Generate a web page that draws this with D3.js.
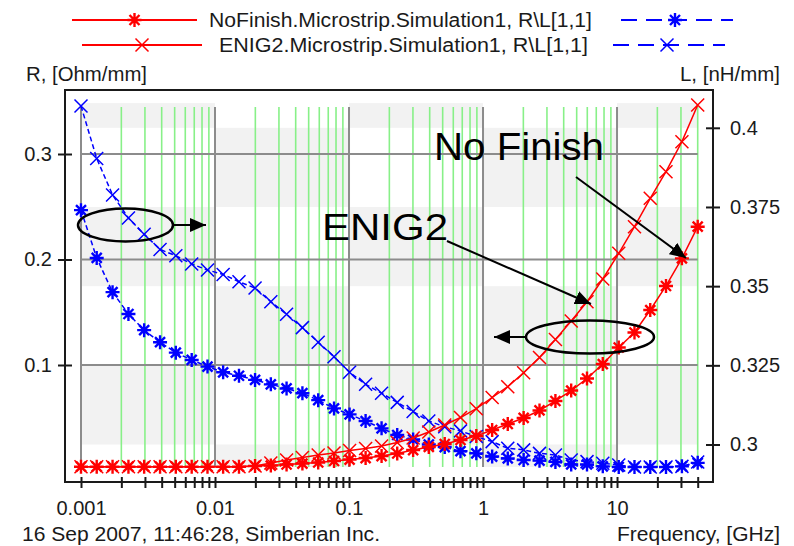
<!DOCTYPE html>
<html><head><meta charset="utf-8">
<script src="https://cdn.jsdelivr.net/npm/d3@7"></script>
<style>
html,body{margin:0;padding:0;background:#fff;}
svg{display:block;font-family:"Liberation Sans",Arial,sans-serif;}
</style></head>
<body>
<svg id="c" width="794" height="546"></svg>
<script>
// ---- data ----
const freq = [0.001,0.00131,0.00172,0.00226,0.00296,0.00389,0.0051,0.0067,0.00879,0.0115,
  0.0151,0.0199,0.0261,0.0342,0.0449,0.0589,0.0773,0.101,0.133,0.175,
  0.229,0.301,0.394,0.518,0.679,0.891,1.17,1.53,2.01,2.64,
  3.47,4.55,5.97,7.83,10.3,13.5,17.7,23.2,30.5,40];
const rNoFinish = [0.0036,0.0036,0.0036,0.0036,0.0036,0.0036,0.0036,0.0036,0.0036,0.0036,
  0.0036,0.0043,0.0047,0.0057,0.0066,0.0076,0.0090,0.0104,0.0118,0.0137,
  0.0161,0.0194,0.0223,0.0251,0.0289,0.0327,0.0384,0.0441,0.0498,0.0569,
  0.0659,0.0758,0.0872,0.1009,0.1166,0.1308,0.1521,0.1749,0.2011,0.2311];
const rENIG2 = [0.0036,0.0036,0.0036,0.0036,0.0036,0.0036,0.0036,0.0036,0.0036,0.0036,
  0.0036,0.0043,0.0071,0.0100,0.0123,0.0147,0.0166,0.0190,0.0209,0.0232,
  0.0265,0.0308,0.0365,0.0431,0.0502,0.0586,0.0692,0.0794,0.0926,0.1071,
  0.1242,0.1417,0.1600,0.1815,0.2059,0.2311,0.2580,0.2832,0.3117,0.3464];
const lNoFinish = [0.3740,0.3589,0.3481,0.3412,0.3361,0.3323,0.3290,0.3267,0.3246,0.3228,
  0.3217,0.3204,0.3190,0.3177,0.3162,0.3140,0.3114,0.3095,0.3074,0.3051,
  0.3030,0.3016,0.3000,0.2992,0.2979,0.2972,0.2962,0.2956,0.2951,0.2949,
  0.2945,0.2937,0.2937,0.2931,0.2929,0.2929,0.2929,0.2929,0.2931,0.2942];
const lENIG2 = [0.4069,0.3903,0.3788,0.3715,0.3664,0.3616,0.3596,0.3570,0.3551,0.3537,
  0.3514,0.3494,0.3451,0.3411,0.3369,0.3323,0.3277,0.3228,0.3190,0.3162,
  0.3133,0.3104,0.3074,0.3056,0.3043,0.3025,0.3009,0.2988,0.2983,0.2972,
  0.2967,0.2951,0.2946,0.2941,0.2935,0.2929,0.2929,0.2929,0.2931,0.2945];
const rTicks = [0.1,0.2,0.3];
const rTickLabels = ["0.1","0.2","0.3"];
const lTicks = [0.3,0.325,0.35,0.375,0.4];
const lTickLabels = ["0.3","0.325","0.35","0.375","0.4"];
const xMajor = [0.001,0.01,0.1,1,10];
const xTickLabels = ["0.001","0.01","0.1","1","10"];
const xMinor = [0.002,0.003,0.004,0.005,0.006,0.007,0.008,0.009,
  0.02,0.03,0.04,0.05,0.06,0.07,0.08,0.09,
  0.2,0.3,0.4,0.5,0.6,0.7,0.8,0.9,
  2,3,4,5,6,7,8,9,20,30,40];
const legendNames = ["NoFinish.Microstrip.Simulation1, R\\L[1,1]","ENIG2.Microstrip.Simulation1, R\\L[1,1]"];

// ---- scales ----
const x = d3.scaleLog().domain([0.001,40]).range([81,697.7]);
const yR = d3.scaleLinear().domain([0.1,0.3]).range([365,154]);
const yL = d3.scaleLinear().domain([0.3,0.4]).range([444.5,127.8]);
const svg = d3.select("#c");

const RED="#ff0000", BLUE="#0000ff";
const starPath="M-7,0L7,0M0,-7L0,7M-5,-5L5,5M-5,5L5,-5";
const crossPath="M-6.5,-6.5L6.5,6.5M-6.5,6.5L6.5,-6.5";

// ---- background bands (checkerboard) ----
const cols = [[0.001,0.01],[0.01,0.1],[0.1,1],[1,10],[10,40]];
const rowEdges = [0.4078,0.4,0.375,0.35,0.325,0.3,0.2929];
const bg = svg.append("g");
cols.forEach((c,ci)=>{
  for(let ri=0;ri<rowEdges.length-1;ri++){
    if((ci+ri)%2===0){
      bg.append("rect").attr("x",x(c[0])).attr("width",x(c[1])-x(c[0]))
        .attr("y",yL(rowEdges[ri])).attr("height",yL(rowEdges[ri+1])-yL(rowEdges[ri]))
        .attr("fill","#f2f2f2");
    }
  }
});
// green minor gridlines
svg.append("g").selectAll("line").data(xMinor).join("line")
  .attr("x1",d=>x(d)).attr("x2",d=>x(d)).attr("y1",107).attr("y2",467)
  .attr("stroke","#88f088").attr("stroke-width",1.6);
// gray major gridlines
svg.append("g").selectAll("line").data(xMajor).join("line")
  .attr("x1",d=>x(d)).attr("x2",d=>x(d)).attr("y1",107).attr("y2",467)
  .attr("stroke","#8c8c8c").attr("stroke-width",2);
svg.append("g").selectAll("line").data(rTicks).join("line")
  .attr("x1",x(0.001)).attr("x2",x(40)).attr("y1",d=>yR(d)).attr("y2",d=>yR(d))
  .attr("stroke","#8c8c8c").attr("stroke-width",2);

// ---- series ----
function series(vals, scale, color, marker, dash){
  const pts = freq.map((f,i)=>[x(f), scale(vals[i])]);
  svg.append("path").attr("d", d3.line()(pts)).attr("fill","none")
    .attr("stroke",color).attr("stroke-width",1.5).attr("stroke-dasharray",dash||null);
  svg.append("g").selectAll("path").data(pts).join("path")
    .attr("transform",d=>`translate(${d[0]},${d[1]})`)
    .attr("d",marker).attr("fill","none").attr("stroke",color)
    .attr("stroke-width",marker===starPath?2.4:1.5);
}
series(lENIG2, yL, BLUE, crossPath, "5,3");
series(lNoFinish, yL, BLUE, starPath, "5,3");
series(rENIG2, yR, RED, crossPath, null);
series(rNoFinish, yR, RED, starPath, null);

// ---- frame ----
svg.append("rect").attr("x",65).attr("y",90).attr("width",648).attr("height",392)
  .attr("fill","none").attr("stroke","#1a1a1a").attr("stroke-width",2);

// ---- axes ----
const fs = "20px";
const axL = svg.append("g").attr("transform","translate(65,0)")
  .call(d3.axisLeft(yR).tickValues(rTicks).tickSizeInner(7).tickSizeOuter(0).tickPadding(6)
    .tickFormat((d,i)=>rTickLabels[i]));
const axR = svg.append("g").attr("transform","translate(713,0)")
  .call(d3.axisRight(yL).tickValues(lTicks).tickSizeInner(7).tickSizeOuter(0).tickPadding(10)
    .tickFormat((d,i)=>lTickLabels[i]));
const allX = xMajor.concat(xMinor);
const axB = svg.append("g").attr("transform","translate(0,482)")
  .call(d3.axisBottom(x).tickValues(allX).tickSizeInner(6).tickSizeOuter(0).tickPadding(13)
    .tickFormat(d=>{const i=xMajor.indexOf(d);return i>=0?xTickLabels[i]:"";}));
[axL,axR,axB].forEach(a=>{
  a.select(".domain").remove();
  a.selectAll("text").attr("font-size",fs).attr("fill","#1a1a1a").attr("font-family","Liberation Sans, Arial, sans-serif");
  a.selectAll("line").attr("stroke","#1a1a1a").attr("stroke-width",2);
});
axL.selectAll(".tick line").attr("x1",7);
axR.selectAll(".tick line").attr("x1",-7);
axB.selectAll(".tick line").attr("y1",-5);

// ---- titles ----
function txt(t,xx,yy,anchor,size,len){
  const e=svg.append("text").attr("x",xx).attr("y",yy).attr("text-anchor",anchor||"start")
    .attr("font-size",size||fs).attr("fill","#1a1a1a").text(t);
  if(len) e.attr("textLength",len).attr("lengthAdjust","spacingAndGlyphs");
  return e;
}
txt("R, [Ohm/mm]",26,81,"start",fs,121);
txt("L, [nH/mm]",780,81,"end",fs,100);
txt("16 Sep 2007, 11:46:28, Simberian Inc.",22,541,"start",fs,358);
txt("Frequency, [GHz]",780,541,"end",fs,163);

// ---- legend ----
const legRows = [
  {y:20, l1:72, l2:197, tx:209, tl:383, b1:621, b2:733, m:starPath},
  {y:45, l1:82, l2:202, tx:219, tl:369, b1:613, b2:725, m:crossPath}
];
legRows.forEach((r,i)=>{
  svg.append("line").attr("x1",r.l1).attr("x2",r.l2).attr("y1",r.y).attr("y2",r.y)
    .attr("stroke",RED).attr("stroke-width",2);
  svg.append("path").attr("transform",`translate(${(r.l1+r.l2)/2},${r.y})`).attr("d",r.m)
    .attr("fill","none").attr("stroke",RED).attr("stroke-width",r.m===starPath?2.4:1.5);
  txt(legendNames[i], r.tx, r.y+7, "start", fs, r.tl);
  svg.append("line").attr("x1",r.b1).attr("x2",r.b2).attr("y1",r.y).attr("y2",r.y)
    .attr("stroke",BLUE).attr("stroke-width",2).attr("stroke-dasharray","16,9");
  svg.append("path").attr("transform",`translate(${(r.b1+r.b2)/2-2},${r.y})`).attr("d",r.m)
    .attr("fill","none").attr("stroke",BLUE).attr("stroke-width",r.m===starPath?2.4:1.5);
});

// ---- annotations ----
const defs = svg.append("defs");
defs.append("marker").attr("id","ah").attr("markerUnits","userSpaceOnUse")
  .attr("markerWidth",16).attr("markerHeight",14).attr("refX",16).attr("refY",7)
  .attr("orient","auto").append("path").attr("d","M0,0L16,7L0,14Z").attr("fill","#000");
function arrow(x1,y1,x2,y2){
  svg.append("line").attr("x1",x1).attr("y1",y1).attr("x2",x2).attr("y2",y2)
    .attr("stroke","#000").attr("stroke-width",2).attr("marker-end","url(#ah)");
}
svg.append("ellipse").attr("cx",125.5).attr("cy",225).attr("rx",47.5).attr("ry",16.5)
  .attr("fill","none").attr("stroke","#000").attr("stroke-width",2.5);
arrow(173,225,206,225);
svg.append("ellipse").attr("cx",590).attr("cy",337).attr("rx",64).attr("ry",16.5)
  .attr("fill","none").attr("stroke","#000").attr("stroke-width",2.5);
arrow(526,337,494,337);
txt("No Finish",434,160,"start","38px",170).attr("fill","#000");
arrow(576,177,686,258);
txt("ENIG2",322,240,"start","36px",126).attr("fill","#000");
arrow(447,241,591,304);
</script>
</body></html>
